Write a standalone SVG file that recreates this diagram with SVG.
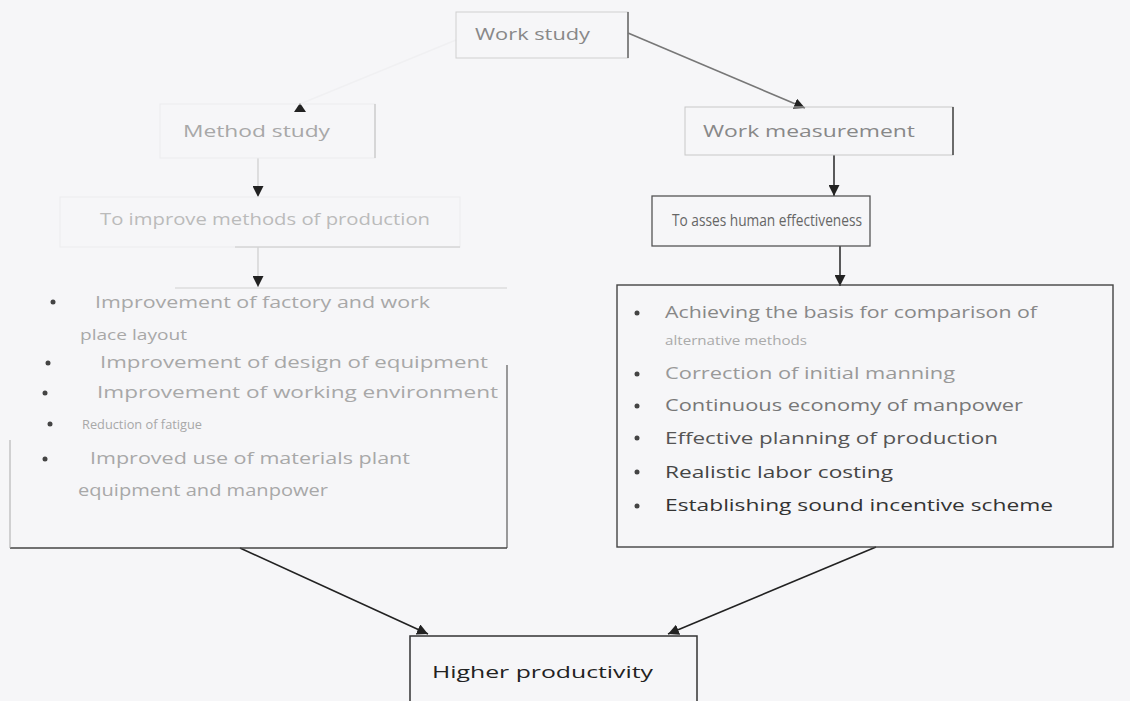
<svg xmlns="http://www.w3.org/2000/svg" width="1130" height="701" viewBox="0 0 1130 701">
<defs>
<style>
.t{font-family:"Open Sans","Liberation Sans",sans-serif;font-size:16px}
.box{fill:none}
.c{fill:none;stroke-width:1.6}
</style>
<marker id="ah" viewBox="0 0 10 10" refX="10" refY="5" markerWidth="11" markerHeight="11" markerUnits="userSpaceOnUse" orient="auto">
<path d="M0,0 L10,5 L0,10 z" fill="#222"/>
</marker>
</defs>
<rect x="0" y="0" width="1130" height="701" fill="#f6f6f8"/>

<g id="connectors">
<path class="c" d="M628,33 L805,108" stroke="#777" marker-end="url(#ah)"/>
<path class="c" d="M456,40 L300,104" stroke="#f0f0f2"/>
<polygon points="300,103 306,112 294,112" fill="#222"/>
<path class="c" d="M258,158 L258,197" stroke="#d8d8d8" marker-end="url(#ah)"/>
<path class="c" d="M258,247 L258,287" stroke="#d8d8d8" marker-end="url(#ah)"/>
<path class="c" d="M834,155 L834,196" stroke="#333" marker-end="url(#ah)"/>
<path class="c" d="M840,246 L840,286" stroke="#333" marker-end="url(#ah)"/>
<path class="c" d="M240,548 L428,634" stroke="#222" marker-end="url(#ah)"/>
<path class="c" d="M876,547 L668,634" stroke="#222" marker-end="url(#ah)"/>
</g>

<g id="work-study">
<rect class="box" x="456" y="12" width="172" height="46" stroke="#d0d0d0"/>
<line x1="628" y1="12" x2="628" y2="58" stroke="#666" stroke-width="1.5"/>
<text class="t" x="475" y="40" fill="#888" font-size="14" textLength="115" lengthAdjust="spacingAndGlyphs">Work study</text>
</g>

<g id="method-study">
<rect class="box" x="160" y="104" width="215" height="54" stroke="#ececee"/>
<line x1="375" y1="104" x2="375" y2="158" stroke="#bbb"/>
<text class="t" x="183" y="137" fill="#a8a8a8" font-size="14" textLength="147" lengthAdjust="spacingAndGlyphs">Method study</text>
</g>

<g id="work-measurement">
<rect class="box" x="685" y="107" width="268" height="48" stroke="#c8c8c8"/>
<line x1="953" y1="107" x2="953" y2="155" stroke="#444" stroke-width="1.5"/>
<text class="t" x="703" y="137" fill="#888" font-size="15" textLength="212" lengthAdjust="spacingAndGlyphs">Work measurement</text>
</g>

<g id="improve-methods">
<rect class="box" x="60" y="197" width="400" height="50" stroke="#ececee"/>
<line x1="235" y1="247" x2="460" y2="247" stroke="#c8c8c8"/>
<text class="t" x="100" y="225" fill="#bbb" font-size="15" textLength="330" lengthAdjust="spacingAndGlyphs">To improve methods of production</text>
</g>

<g id="assess-effectiveness">
<rect class="box" x="652" y="196" width="218" height="50" stroke="#555" stroke-width="1.3"/>
<text class="t" x="672" y="226" fill="#666" font-size="13" textLength="190" lengthAdjust="spacingAndGlyphs">To asses human effectiveness</text>
</g>

<g id="method-benefits">
<line x1="175" y1="288" x2="507" y2="288" stroke="#d0d0d0"/>
<line x1="507" y1="365" x2="507" y2="548" stroke="#666" stroke-width="1.3"/>
<line x1="10" y1="548" x2="507" y2="548" stroke="#444" stroke-width="1.5"/>
<line x1="10" y1="440" x2="10" y2="548" stroke="#aaa"/>
<g fill="#444">
<circle cx="53" cy="302" r="2.5"/>
<circle cx="48" cy="363" r="2.5"/>
<circle cx="45" cy="393" r="2.5"/>
<circle cx="50" cy="424" r="2.5"/>
<circle cx="45" cy="459" r="2.5"/>
</g>
<g class="t" fill="#a8a8a8">
<text x="95" y="308" textLength="335" lengthAdjust="spacingAndGlyphs">Improvement of factory and work</text>
<text x="80" y="340" font-size="14" textLength="107" lengthAdjust="spacingAndGlyphs">place layout</text>
<text x="100" y="368" textLength="388" lengthAdjust="spacingAndGlyphs">Improvement of design of equipment</text>
<text x="97" y="398" textLength="401" lengthAdjust="spacingAndGlyphs">Improvement of working environment</text>
<text x="82" y="429" font-size="13" textLength="120" lengthAdjust="spacingAndGlyphs">Reduction of fatigue</text>
<text x="90" y="464" textLength="320" lengthAdjust="spacingAndGlyphs">Improved use of materials plant</text>
<text x="78" y="496" textLength="250" lengthAdjust="spacingAndGlyphs">equipment and manpower</text>
</g>
</g>

<g id="measurement-benefits">
<rect class="box" x="617" y="285" width="496" height="262" stroke="#444" stroke-width="1.4"/>
<g fill="#444">
<circle cx="637" cy="313" r="2.5"/>
<circle cx="637" cy="374" r="2.5"/>
<circle cx="637" cy="406" r="2.5"/>
<circle cx="637" cy="438" r="2.5"/>
<circle cx="637" cy="472" r="2.5"/>
<circle cx="637" cy="506" r="2.5"/>
</g>
<g class="t">
<text x="665" y="318" fill="#888" textLength="372" lengthAdjust="spacingAndGlyphs">Achieving the basis for comparison of</text>
<text x="665" y="345" fill="#aaa" font-size="13" textLength="142" lengthAdjust="spacingAndGlyphs">alternative methods</text>
<text x="665" y="379" fill="#999" textLength="290" lengthAdjust="spacingAndGlyphs">Correction of initial manning</text>
<text x="665" y="411" fill="#777" textLength="358" lengthAdjust="spacingAndGlyphs">Continuous economy of manpower</text>
<text x="665" y="444" fill="#555" textLength="333" lengthAdjust="spacingAndGlyphs">Effective planning of production</text>
<text x="665" y="478" fill="#444" textLength="228" lengthAdjust="spacingAndGlyphs">Realistic labor costing</text>
<text x="665" y="511" fill="#333" textLength="388" lengthAdjust="spacingAndGlyphs">Establishing sound incentive scheme</text>
</g>
</g>

<g id="higher-productivity">
<rect class="box" x="410" y="636" width="287" height="80" stroke="#333" stroke-width="1.5"/>
<text class="t" x="432" y="678" fill="#222" font-size="18" textLength="221" lengthAdjust="spacingAndGlyphs">Higher productivity</text>
</g>
</svg>
